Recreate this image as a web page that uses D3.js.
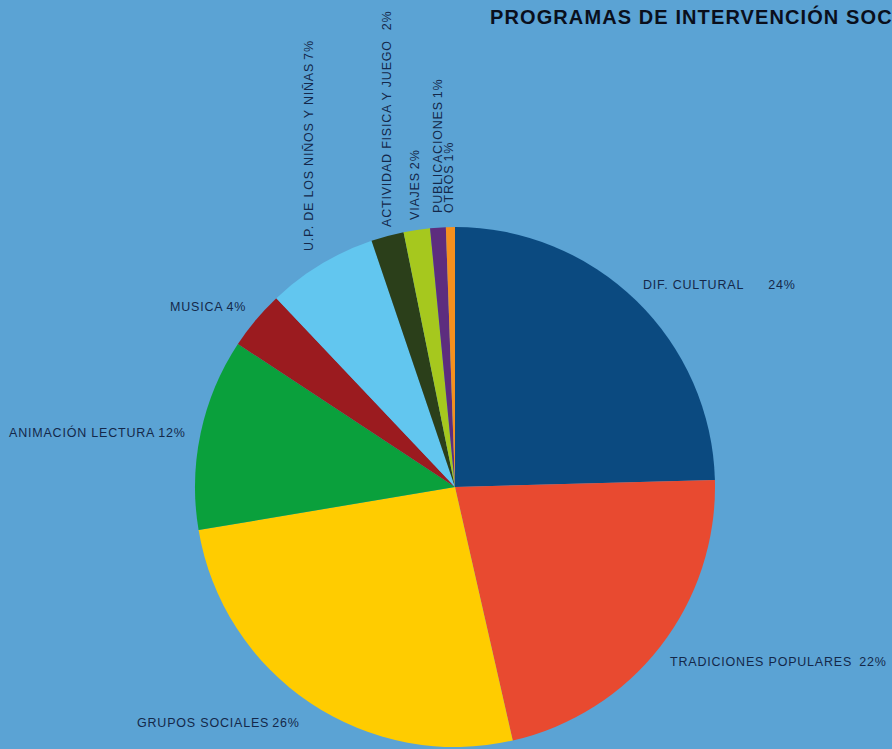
<!DOCTYPE html>
<html>
<head>
<meta charset="utf-8">
<script src="https://cdn.jsdelivr.net/npm/d3@7"></script>
<style>
  html, body { margin: 0; padding: 0; background: #5ba3d4; overflow: hidden; }
  svg { display: block; }
  .lbl { font-family: "Liberation Sans", Arial, sans-serif; font-size: 12.5px; letter-spacing: 0.8px; fill: #14284a; }
</style>
</head>
<body>
<svg id="chart" width="892" height="749"></svg>
<script>
// data, clockwise from 12 o'clock
const categories = ["DIF. CULTURAL", "TRADICIONES POPULARES", "GRUPOS SOCIALES", "ANIMACIÓN LECTURA",
  "MUSICA", "U.P. DE LOS NIÑOS Y NIÑAS", "ACTIVIDAD FISICA Y JUEGO", "VIAJES", "PUBLICACIONES", "OTROS"];
const values = [24.58, 21.86, 25.92, 11.92, 3.67, 6.86, 2.03, 1.64, 0.97, 0.56];
const pctLabels = ["24%", "22%", "26%", "12%", "4%", "7%", "2%", "2%", "1%", "1%"];
const colors = ["#0b4a80", "#e84a30", "#ffcc00", "#0aa03c", "#9b1b1f", "#62c6ef", "#2b3f1a", "#a6c81e", "#5d2d7e", "#f5901e"];
const title = "PROGRAMAS DE INTERVENCIÓN SOCIOCULTURAL";

// label layout: text start, rotation, gap (px) before the percentage
const labelPos = [
  {x: 643, y: 289, rot: 0, gap: 24},
  {x: 670, y: 666, rot: 0, gap: 7},
  {x: 137, y: 727, rot: 0, gap: 3},
  {x: 9, y: 437, rot: 0, gap: 3},
  {x: 170, y: 311, rot: 0, gap: 3},
  {x: 313, y: 251, rot: -90, gap: 3},
  {x: 391, y: 227, rot: -90, gap: 10},
  {x: 419, y: 220, rot: -90, gap: 3},
  {x: 442, y: 213, rot: -90, gap: 3},
  {x: 453, y: 213, rot: -90, gap: 3}
];

const svg = d3.select("#chart"),
    width = +svg.attr("width"),
    height = +svg.attr("height");

const cx = 455, cy = 487, radius = 260;

const pie = d3.pie().sort(null).value(d => d);
const arc = d3.arc().innerRadius(0).outerRadius(radius);

const g = svg.append("g").attr("transform", `translate(${cx},${cy})`);

g.selectAll("path")
    .data(pie(values))
    .enter()
    .append("path")
    .attr("d", arc)
    .attr("fill", (d, i) => colors[i]);

svg.append("text")
    .attr("x", 490)
    .attr("y", 24)
    .style("font-family", "'Liberation Sans', Arial, sans-serif")
    .style("font-weight", "bold")
    .style("font-size", "20px")
    .style("letter-spacing", "1.1px")
    .style("fill", "#0a0f1c")
    .text(title);

let labels = svg.append("g")
    .selectAll("text")
    .data(categories)
    .enter()
    .append("text")
    .attr("class", "lbl")
    .attr("transform", (d, i) => {
        let p = labelPos[i];
        return `translate(${p.x},${p.y}) rotate(${p.rot})`;
    });

labels.append("tspan").text(d => d);
labels.append("tspan")
    .attr("dx", (d, i) => labelPos[i].gap)
    .text((d, i) => pctLabels[i]);
</script>
</body>
</html>
